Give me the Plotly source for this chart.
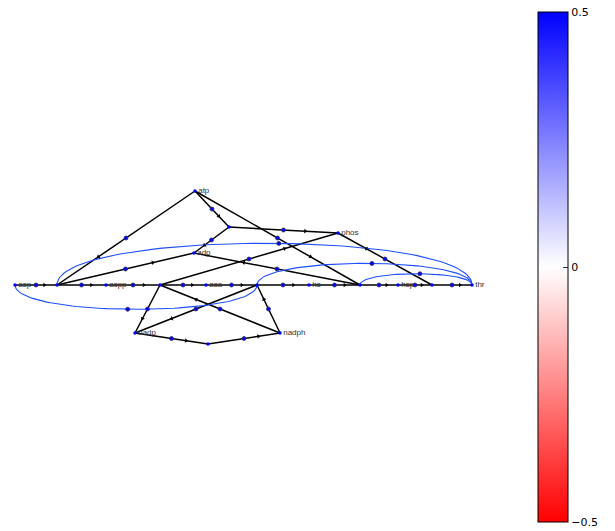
import numpy as np
import plotly.graph_objects as go

# ---- data: network layout (node positions in layout units) ----
met_names = ["asp", "aspp", "asa", "hs", "hsp", "thr", "atp", "adp", "phos", "nadp", "nadph"]
met_x = [15, 106, 206, 309, 398, 472, 195, 194, 338, 135, 280]
met_y = [285, 285, 285, 285, 285, 285, 191, 253, 233, 333, 333]

rxn_names = ["R1", "R2", "R3", "R4", "R5", "R6", "R7"]
rxn_x = [57, 160, 257, 360, 432, 229, 208]
rxn_y = [285, 285, 285, 285, 285, 227, 344]

# stoichiometric edges (source -> target)
edge_src = ["asp", "atp", "R1", "R1",
            "aspp", "nadph", "R2", "R2", "R2",
            "asa", "nadph", "R3", "R3",
            "hs", "atp", "R4", "R4",
            "hsp", "R5", "R5",
            "atp", "R6", "R6",
            "nadp", "R7"]
edge_tgt = ["R1", "R1", "aspp", "adp",
            "R2", "R2", "asa", "nadp", "phos",
            "R3", "R3", "hs", "nadp",
            "R4", "R4", "hsp", "adp",
            "R5", "thr", "phos",
            "R6", "adp", "phos",
            "R7", "nadph"]
edge_value = [0.5] * len(edge_src)

# regulatory edges (curved)
reg_src = ["thr", "thr", "thr", "asp"]
reg_tgt = ["R1", "R3", "R4", "R3"]
reg_side = [1, 1, 1, -1]          # 1 = arc above, -1 = arc below
reg_value = [0.5, 0.5, 0.5, 0.5]

cbar_ticks = [-0.5, 0, 0.5]

# ---- build ----
pos = {}
for n, x, y in zip(met_names, met_x, met_y):
    pos[n] = (x, y)
for n, x, y in zip(rxn_names, rxn_x, rxn_y):
    pos[n] = (x, y)

fig = go.Figure()

# straight edges
ex, ey = [], []
ax_, ay_, aang = [], [], []
mx, my, mv = [], [], []
for s, t, v in zip(edge_src, edge_tgt, edge_value):
    x0, y0 = pos[s]
    x1, y1 = pos[t]
    ex += [x0, x1, None]
    ey += [y0, y1, None]
    ax_.append(x0 + 0.7 * (x1 - x0))
    ay_.append(y0 + 0.7 * (y1 - y0))
    aang.append(np.degrees(np.arctan2(y1 - y0, x1 - x0)))
    mx.append((x0 + x1) / 2)
    my.append((y0 + y1) / 2)
    mv.append(v)

fig.add_trace(go.Scatter(x=ex, y=ey, mode="lines",
                         line=dict(color="black", width=1.5),
                         hoverinfo="skip", showlegend=False))

# curved regulatory edges (cubic bezier with vertical handles)
cx, cy = [], []
for s, t, side, v in zip(reg_src, reg_tgt, reg_side, reg_value):
    x0, y0 = pos[s]
    x1, y1 = pos[t]
    h = 0.134 * abs(x1 - x0) * side
    P = np.array([[x0, y0], [x0, y0 - h], [x1, y1 - h], [x1, y1]], dtype=float)
    tt = np.linspace(0, 1, 80)
    B = ((1 - tt) ** 3)[:, None] * P[0] + (3 * (1 - tt) ** 2 * tt)[:, None] * P[1] \
        + (3 * (1 - tt) * tt ** 2)[:, None] * P[2] + (tt ** 3)[:, None] * P[3]
    cx += list(B[:, 0]) + [None]
    cy += list(B[:, 1]) + [None]
    tm = 0.477
    Bm = ((1 - tm) ** 3) * P[0] + (3 * (1 - tm) ** 2 * tm) * P[1] \
        + (3 * (1 - tm) * tm ** 2) * P[2] + (tm ** 3) * P[3]
    mx.append(Bm[0])
    my.append(Bm[1])
    mv.append(v)

fig.add_trace(go.Scatter(x=cx, y=cy, mode="lines",
                         line=dict(color="#1f4fff", width=1.1),
                         hoverinfo="skip", showlegend=False))

# arrowheads
fig.add_trace(go.Scatter(x=ax_, y=ay_, mode="markers",
                         marker=dict(symbol="triangle-right", size=4, color="black",
                                     angle=aang, line=dict(width=0)),
                         hoverinfo="skip", showlegend=False))

# midpoint markers with colorbar
fig.add_trace(go.Scatter(
    x=mx, y=my, mode="markers",
    marker=dict(size=4, color=mv, cmin=-0.5, cmax=0.5,
                colorscale=[[0, "rgb(255,0,0)"], [0.5, "rgb(255,255,255)"], [1, "rgb(0,0,255)"]],
                line=dict(color="#30305a", width=0.8),
                showscale=True,
                colorbar=dict(
                    x=538 / 530, xanchor="left", xpad=0,
                    y=(531 - 267) / 531, yanchor="middle", ypad=0,
                    len=510, lenmode="pixels",
                    thickness=30, thicknessmode="pixels",
                    outlinecolor="black", outlinewidth=1,
                    tickvals=cbar_ticks, ticks="inside", ticklen=5,
                    tickcolor="#333", tickwidth=1,
                    tickfont=dict(size=11, color="black", family="DejaVu Sans"),
                )),
    hoverinfo="skip", showlegend=False))

# nodes
fig.add_trace(go.Scatter(x=rxn_x, y=rxn_y, mode="markers",
                         marker=dict(size=3.5, color="blue", symbol="circle"),
                         hoverinfo="skip", showlegend=False))
fig.add_trace(go.Scatter(x=met_x, y=met_y, mode="markers+text",
                         text=met_names, textposition="middle right",
                         textfont=dict(size=8, color="#333", family="Liberation Sans"),
                         marker=dict(size=3.5, color="blue", symbol="circle"),
                         hoverinfo="skip", showlegend=False))

fig.update_layout(
    width=615, height=531,
    margin=dict(l=0, r=85, t=0, b=0),
    paper_bgcolor="white", plot_bgcolor="white",
    xaxis=dict(range=[0, 530], visible=False, fixedrange=True),
    yaxis=dict(range=[531, 0], visible=False, fixedrange=True),
)

fig.write_html("out.html", config={"displayModeBar": False},
               post_script="document.body.style.margin='0';document.body.style.padding='0';")
